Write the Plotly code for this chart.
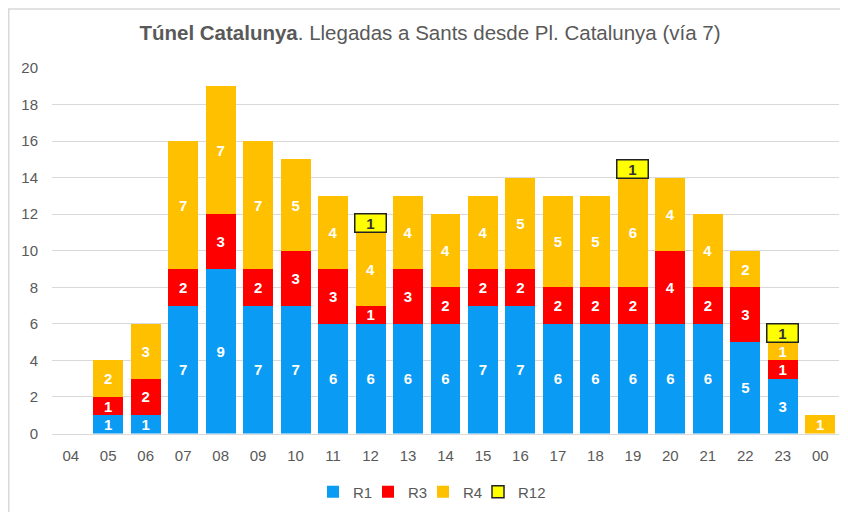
import plotly.graph_objects as go

hours = ["04", "05", "06", "07", "08", "09", "10", "11", "12", "13", "14",
         "15", "16", "17", "18", "19", "20", "21", "22", "23", "00"]
r1 = [0, 1, 1, 7, 9, 7, 7, 6, 6, 6, 6, 7, 7, 6, 6, 6, 6, 6, 5, 3, 0]
r3 = [0, 1, 2, 2, 3, 2, 3, 3, 1, 3, 2, 2, 2, 2, 2, 2, 4, 2, 3, 1, 0]
r4 = [0, 2, 3, 7, 7, 7, 5, 4, 4, 4, 4, 4, 5, 5, 5, 6, 4, 4, 2, 1, 1]
r12 = [0, 0, 0, 0, 0, 0, 0, 0, 1, 0, 0, 0, 0, 0, 0, 1, 0, 0, 0, 1, 0]
y_ticks = [0, 2, 4, 6, 8, 10, 12, 14, 16, 18, 20]

C_R1 = "#0A9BF4"
C_R3 = "#FF0000"
C_R4 = "#FFC000"
C_R12 = "#FFFF00"
GRAY = "#595959"
FONT = "Liberation Sans, Arial, sans-serif"

def labels(vals):
    return [str(v) if v else "" for v in vals]

fig = go.Figure()
for name, vals, col in [("R1", r1, C_R1), ("R3", r3, C_R3), ("R4", r4, C_R4)]:
    fig.add_trace(go.Bar(
        x=hours, y=vals, name=name, marker=dict(color=col, line=dict(width=0)),
        text=labels(vals), textposition="inside", insidetextanchor="middle",
        textangle=0,
        textfont=dict(color="white", size=15, family=FONT, weight="bold"),
        constraintext="none", hoverinfo="x+y+name"))

# R12 segment (drawn in R4 colour as in reference) + legend-only entry
fig.add_trace(go.Bar(x=hours, y=r12, name="R12", showlegend=False,
                     marker=dict(color=C_R4, line=dict(width=0)), legendgroup="r12"))
fig.add_trace(go.Bar(x=hours, y=[None] * len(hours), name="R12", legendgroup="r12",
                     marker=dict(color=C_R12, line=dict(color="#222222", width=1.5))))
# empty spacer entry so the last legend label is not clipped
fig.add_trace(go.Bar(x=hours, y=[None] * len(hours), name=" ",
                     marker=dict(color="rgba(0,0,0,0)", line=dict(width=0))))

for i, v in enumerate(r12):
    if v:
        base = r1[i] + r3[i] + r4[i]
        fig.add_annotation(x=i, y=base + v / 2, text="<b>%d</b>" % v,
                           showarrow=False, bgcolor=C_R12, bordercolor="#222222",
                           borderwidth=1.5, width=28, height=15, borderpad=1,
                           font=dict(size=15, color="#333333", family=FONT))

# page has an 8px body margin: figure coords = screen coords - 8
OFF = 8
W, H = 848, 512
L, T = 52 - OFF, 68 - OFF
R = W - (839 - OFF)
B = H - (435 - OFF)
pw, ph = W - L - R, H - T - B
fig.add_shape(type="rect", xref="paper", yref="paper",
              x0=(0.75 - L) / pw, x1=(W + 5 - L) / pw,
              y0=-(B + 5) / ph, y1=1 + (T - 0.75) / ph,
              line=dict(color="#D9D9D9", width=1.5), layer="below")

fig.update_layout(
    width=W, height=H, barmode="stack", bargap=0.2,
    margin=dict(l=L, r=R, t=T, b=B),
    paper_bgcolor="white", plot_bgcolor="white",
    font=dict(family=FONT, color=GRAY, size=15),
    uniformtext=dict(minsize=15, mode="show"),
    title=dict(text="<b>Túnel Catalunya</b>. Llegadas a Sants desde Pl. Catalunya (vía 7)",
               x=(430 - OFF) / W, xref="container", xanchor="center",
               y=1 - (33 - OFF) / H, yref="container", yanchor="middle",
               font=dict(size=20.5, color=GRAY, family=FONT)),
    legend=dict(orientation="h", xref="container", x=(313 - OFF) / W, xanchor="left",
                yref="container", y=1 - (492 - OFF) / H, yanchor="middle",
                font=dict(size=15, color=GRAY), traceorder="normal",
                itemwidth=30, entrywidth=10, entrywidthmode="pixels"),
    showlegend=True,
)
fig.update_yaxes(range=[0, 20], tickvals=y_ticks, showgrid=True, gridcolor="#D9D9D9",
                 gridwidth=1, zeroline=False, showline=False, ticks="",
                 ticklabelstandoff=13, tickfont=dict(size=15, color=GRAY))
fig.update_xaxes(type="category", range=[-0.5, len(hours) - 0.5],
                 showline=True, linecolor="#D9D9D9", linewidth=1,
                 ticks="", ticklabelstandoff=8, tickfont=dict(size=15, color=GRAY))

fig.write_html("out.html")
